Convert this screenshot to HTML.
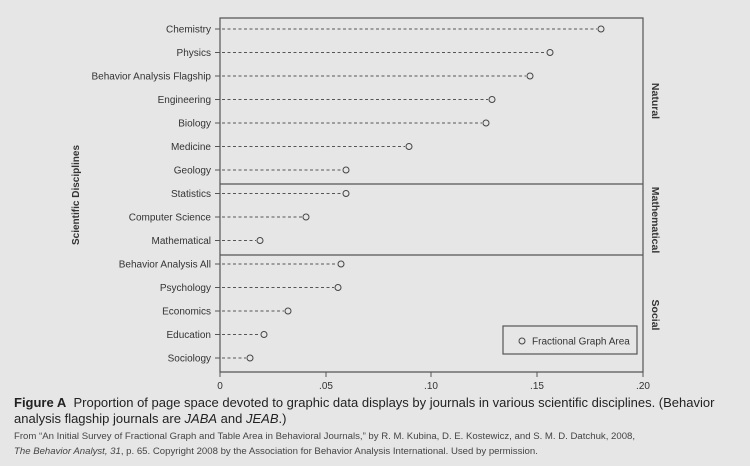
<!DOCTYPE html>
<html><head><style>
body{margin:0;width:750px;height:466px;background:#e6e6e6;font-family:"Liberation Sans",sans-serif;overflow:hidden}
.cap{position:absolute;left:14px;font-size:13px;color:#222;line-height:16px;width:730px}
.src{position:absolute;left:14px;top:429px;font-size:9.6px;color:#444;line-height:15px;width:730px}
</style></head><body>
<svg width="750" height="466" style="position:absolute;left:0;top:0" font-family="Liberation Sans, sans-serif">
<g stroke="#555" fill="none" stroke-width="1.2">
<path d="M220 18 H643 V372 H220 Z"/>
<path d="M220 184 H643 M220 255 H643"/>
</g>
<g id="rows" font-size="10" fill="#333" text-anchor="end"></g>
<g font-size="10" fill="#333" text-anchor="middle">
<text x="220" y="389">0</text><text x="326" y="389">.05</text><text x="431" y="389">.10</text><text x="537" y="389">.15</text><text x="643" y="389">.20</text>
</g>
<g stroke="#555"><path d="M220 372v5M326 372v5M431 372v5M537 372v5M643 372v5"/></g>
<rect x="503" y="326" width="134" height="28" fill="none" stroke="#555" stroke-width="1.2"/>
<circle cx="522" cy="341" r="3" fill="none" stroke="#444"/>
<text x="532" y="344.5" font-size="10" fill="#333">Fractional Graph Area</text>
<g font-size="10.5" font-weight="bold" fill="#333" text-anchor="middle">
<text transform="translate(652 101) rotate(90)">Natural</text>
<text transform="translate(652 220) rotate(90)">Mathematical</text>
<text transform="translate(652 315) rotate(90)">Social</text>
<text transform="translate(79 195) rotate(-90)" font-size="10">Scientific Disciplines</text>
</g>
</svg>
<div class="cap" style="top:395px"><b>Figure A</b>&nbsp; Proportion of page space devoted to graphic data displays by journals in various scientific disciplines. (Behavior analysis flagship journals are <i>JABA</i> and <i>JEAB</i>.)</div>
<div class="src">From “An Initial Survey of Fractional Graph and Table Area in Behavioral Journals,” by R. M. Kubina, D. E. Kostewicz, and S. M. D. Datchuk, 2008,<br><i>The Behavior Analyst, 31</i>, p. 65. Copyright 2008 by the Association for Behavior Analysis International. Used by permission.</div>
<script>
var d=[["Chemistry",601],["Physics",550],["Behavior Analysis Flagship",530],["Engineering",492],["Biology",486],["Medicine",409],["Geology",346],["Statistics",346],["Computer Science",306],["Mathematical",260],["Behavior Analysis All",341],["Psychology",338],["Economics",288],["Education",264],["Sociology",250]];
var g=document.getElementById("rows"),s="";
d.forEach(function(r,i){var y=29+i*23.5;
s+='<text x="211" y="'+(y+3.5)+'">'+r[0]+'</text>';
s+='<path d="M215 '+y+'H220" stroke="#555"/>';
s+='<path d="M222 '+y+'H'+(r[1]-4)+'" stroke="#555" stroke-dasharray="3,2.5" stroke-width="0.9"/>';
s+='<circle cx="'+r[1]+'" cy="'+y+'" r="3" fill="none" stroke="#444"/>';});
g.innerHTML=s;
</script>
</body></html>
